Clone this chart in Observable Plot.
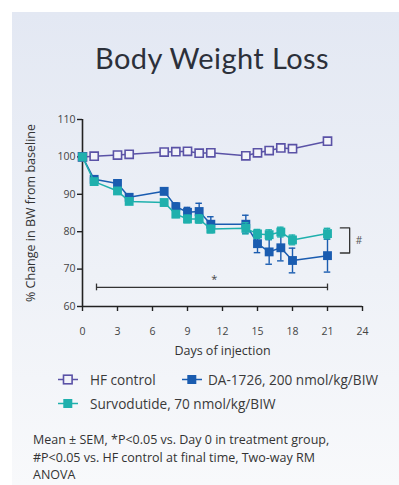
<!DOCTYPE html>
<html>
<head>
<meta charset="utf-8">
<script src="https://cdn.jsdelivr.net/npm/d3@7"></script>
<script src="https://cdn.jsdelivr.net/npm/@observablehq/plot@0.6"></script>
<style>
  html, body { margin: 0; padding: 0; background: #ffffff; }
  #wrap { position: relative; width: 399px; height: 485px; overflow: hidden; font-family: "Open Sans", sans-serif; }
  #panel { position: absolute; left: 12px; top: 12px; right: 0; bottom: 0;
           background: linear-gradient(180deg, #e3e8f3 0%, #eef1f7 55%, #f8f9fb 100%); }
  #title { position: absolute; left: 0; width: 424px; top: 40px; text-align: center;
           font-family: Lato, sans-serif; font-size: 29px; letter-spacing: 0.4px; color: #2c303a; line-height: 36px; }
  #chart { position: absolute; left: 0; top: 0; }
  .leg { position: absolute; font-size: 13.6px; color: #3a3a3a; line-height: 16px; white-space: nowrap; }
  .leg svg { position: absolute; }
  #foot { position: absolute; left: 33px; top: 431px; font-size: 12.5px; color: #333; line-height: 17.5px; white-space: nowrap; }
</style>
</head>
<body>
<div id="wrap">
  <div id="panel"></div>
  <div id="title">Body Weight Loss</div>
  <div id="chart"></div>
  <div id="legend"></div>
  <div id="foot">Mean ± SEM, *P&lt;0.05 vs. Day 0 in treatment group,<br>#P&lt;0.05 vs. HF control at final time, Two-way RM<br>ANOVA</div>
</div>
<script>
// ---- data ----
const days = [0, 1, 3, 4, 7, 8, 9, 10, 11, 14, 15, 16, 17, 18, 21];
const hfControl   = [100, 100.2, 100.5, 100.7, 101.3, 101.4, 101.5, 101.0, 101.1, 100.3, 101.1, 101.7, 102.4, 102.2, 104.2];
const hfSem       = [0, 0.2, 0.2, 0.2, 0.3, 0.3, 0.3, 0.3, 0.3, 0.3, 0.3, 0.3, 0.3, 0.3, 0.4];
const da1726      = [100, 94.0, 92.9, 89.2, 90.8, 86.7, 85.2, 85.4, 82.0, 82.0, 76.8, 74.6, 75.7, 72.3, 73.6];
const daSem       = [0, 0.7, 0.8, 0.8, 0.9, 1.0, 1.3, 2.2, 2.0, 2.4, 2.4, 3.3, 3.5, 3.3, 4.4];
const survodutide = [100, 93.4, 90.9, 88.1, 87.8, 84.7, 83.4, 83.4, 80.7, 80.9, 79.4, 79.2, 79.9, 77.8, 79.5];
const survSem     = [0, 0.6, 0.7, 0.7, 0.8, 0.9, 1.0, 1.1, 1.0, 1.5, 1.2, 1.3, 1.3, 1.3, 1.4];

const xTicks = [0, 3, 6, 9, 12, 15, 18, 21, 24];
const yTicks = [60, 70, 80, 90, 100, 110];

const seriesNames = ["HF control", "DA-1726, 200 nmol/kg/BIW", "Survodutide, 70 nmol/kg/BIW"];
const seriesColors = ["#5a52a6", "#1a5cb0", "#1fb0ad"];

// significance annotations (data units)
const starBar = {x1: 1.2, x2: 21, y: 65.1, cap: 0.9, labelX: 11.3, labelY: 67.3, label: "*"};
const hashBracket = {x1: 22.1, x2: 22.9, y1: 81.0, y2: 74.3, labelX: 23.7, labelY: 77.6, label: "#"};

// ---- build table ----
function series(name, vals, sem) {
  return days.map((d, i) => ({series: name, day: d, v: vals[i], lo: vals[i] - sem[i], hi: vals[i] + sem[i], sem: sem[i]}));
}
const hf = series(seriesNames[0], hfControl, hfSem);
const da = series(seriesNames[1], da1726, daSem);
const sv = series(seriesNames[2], survodutide, survSem);

function errMarks(data, color) {
  const e = data.filter(d => d.sem > 0.25);
  return [
    Plot.ruleX(e, {x: "day", y1: "lo", y2: "hi", stroke: color, strokeWidth: 1.4}),
    Plot.ruleY(e, {y: "lo", x1: d => d.day - 0.28, x2: d => d.day + 0.28, stroke: color, strokeWidth: 1.4}),
    Plot.ruleY(e, {y: "hi", x1: d => d.day - 0.28, x2: d => d.day + 0.28, stroke: color, strokeWidth: 1.4})
  ];
}

const ink = "#222";
const chart = Plot.plot({
  width: 399,
  height: 365,
  marginTop: 119,
  marginBottom: 59,
  marginLeft: 82,
  marginRight: 37,
  style: {background: "transparent", fontFamily: "Open Sans, sans-serif", fontSize: "10.5px", color: "#444"},
  x: {domain: [0, 24]},
  y: {domain: [60, 110]},
  marks: [
    Plot.axisY({ticks: yTicks, tickSize: 5, tickPadding: 2, stroke: ink, strokeWidth: 1.4,
                label: "% Change in BW from baseline", labelAnchor: "center", labelArrow: "none", labelOffset: 56,
                fontSize: 10.5, fill: "#444"}),
    Plot.axisX({ticks: xTicks, tickSize: 5, tickPadding: 16, stroke: ink, strokeWidth: 1.4,
                label: "Days of injection", labelAnchor: "center", labelArrow: "none", labelOffset: 48,
                fontSize: 10.5, fill: "#444"}),
    Plot.ruleX([0], {stroke: ink, strokeWidth: 1.6}),
    Plot.ruleY([60], {stroke: ink, strokeWidth: 1.6}),

    // HF control
    ...errMarks(hf, seriesColors[0]),
    Plot.line(hf, {x: "day", y: "v", stroke: seriesColors[0], strokeWidth: 1.5}),
    Plot.dot(hf, {x: "day", y: "v", symbol: "square", r: 4.6, fill: "#f2f3f9", stroke: seriesColors[0], strokeWidth: 1.6}),

    // DA-1726
    ...errMarks(da, seriesColors[1]),
    Plot.line(da, {x: "day", y: "v", stroke: seriesColors[1], strokeWidth: 1.5}),
    Plot.dot(da, {x: "day", y: "v", symbol: "square", r: 5, fill: seriesColors[1]}),

    // Survodutide
    ...errMarks(sv, seriesColors[2]),
    Plot.line(sv, {x: "day", y: "v", stroke: seriesColors[2], strokeWidth: 1.5}),
    Plot.dot(sv, {x: "day", y: "v", symbol: "square", r: 5, fill: seriesColors[2]}),

    // * bar
    Plot.ruleY([starBar], {y: "y", x1: "x1", x2: "x2", stroke: "#333", strokeWidth: 1.3}),
    Plot.ruleX([starBar.x1, starBar.x2], {x: d => d, y1: starBar.y - starBar.cap, y2: starBar.y + starBar.cap, stroke: "#333", strokeWidth: 1.3}),
    Plot.text([starBar], {x: "labelX", y: "labelY", text: "label", fontSize: 11, fill: "#444"}),

    // # bracket
    Plot.line([[hashBracket.x1, hashBracket.y1], [hashBracket.x2, hashBracket.y1], [hashBracket.x2, hashBracket.y2], [hashBracket.x1, hashBracket.y2]],
              {stroke: "#333", strokeWidth: 1.3}),
    Plot.text([hashBracket], {x: "labelX", y: "labelY", text: "label", fontSize: 10, fill: "#555"})
  ]
});
chart.querySelectorAll('[aria-label="y-axis label"] text, [aria-label="x-axis label"] text').forEach(t => {
  t.setAttribute("font-size", "12.5");
  t.style.fontSize = "12.5px";
  t.setAttribute("fill", "#333");
});
document.getElementById("chart").appendChild(chart);

// ---- legend (HTML) ----
const legendItems = [
  {i: 0, left: 58, top: 372, textLeft: 90, open: true},
  {i: 1, left: 182, top: 372, textLeft: 208, open: false},
  {i: 2, left: 58, top: 396, textLeft: 90, open: false}
];
const legend = document.getElementById("legend");
legendItems.forEach(it => {
  const c = seriesColors[it.i];
  const sq = it.open
    ? `<rect x="5.5" y="3.2" width="8.6" height="8.6" fill="#f2f3f9" stroke="${c}" stroke-width="1.6"/>`
    : `<rect x="5.3" y="3" width="9" height="9" fill="${c}"/>`;
  const el = document.createElement("div");
  el.className = "leg";
  el.style.left = it.left + "px";
  el.style.top = it.top + "px";
  el.innerHTML = `<svg width="20" height="16" style="left:0;top:0"><line x1="0" y1="7.5" x2="20" y2="7.5" stroke="${c}" stroke-width="1.5"/>${sq}</svg>` +
                 `<span style="position:absolute;left:${it.textLeft - it.left}px;top:0">${seriesNames[it.i]}</span>`;
  legend.appendChild(el);
});
</script>
</body>
</html>
